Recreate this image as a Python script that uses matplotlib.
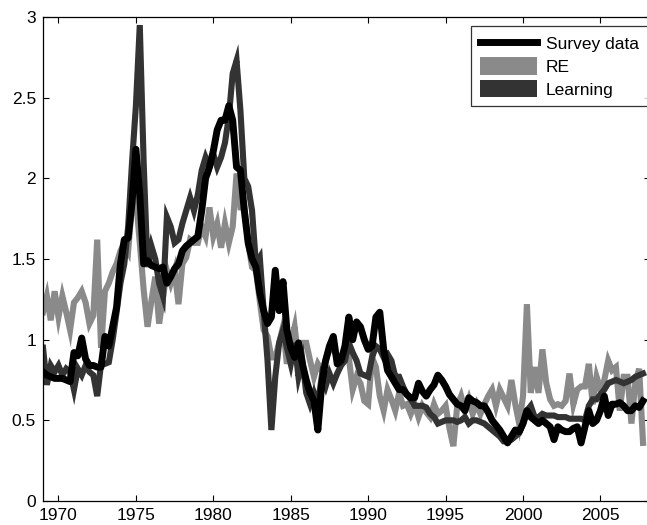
import numpy as np
import matplotlib
matplotlib.use("Agg")
import matplotlib.pyplot as plt
from matplotlib.lines import Line2D
from matplotlib.patches import Patch

# quarterly data, 1969Q1 .. 2007Q4
start_year = 1969
n_quarters = 156

survey = [
    0.80, 0.78, 0.77, 0.76,  # 1969
    0.76, 0.76, 0.75, 0.74,  # 1970
    0.92, 0.90, 1.01, 0.88,  # 1971
    0.84, 0.84, 0.83, 0.83,  # 1972
    1.02, 0.96, 1.08, 1.20,  # 1973
    1.47, 1.62, 1.63, 1.85,  # 1974
    2.18, 1.90, 1.47, 1.49,  # 1975
    1.46, 1.45, 1.44, 1.45,  # 1976
    1.35, 1.39, 1.44, 1.47,  # 1977
    1.55, 1.58, 1.60, 1.62,  # 1978
    1.64, 1.80, 2.00, 2.07,  # 1979
    2.17, 2.30, 2.36, 2.36,  # 1980
    2.45, 2.36, 2.07, 2.05,  # 1981
    1.80, 1.60, 1.50, 1.45,  # 1982
    1.29, 1.18, 1.10, 1.14,  # 1983
    1.43, 1.18, 1.36, 1.06,  # 1984
    0.95, 0.89, 0.98, 0.85,  # 1985
    0.75, 0.67, 0.62, 0.44,  # 1986
    0.72, 0.87, 0.96, 1.02,  # 1987
    0.85, 0.87, 0.96, 1.14,  # 1988
    1.00, 1.11, 1.08, 1.00,  # 1989
    0.94, 0.96, 1.14, 1.17,  # 1990
    0.94, 0.81, 0.77, 0.73,  # 1991
    0.69, 0.69, 0.66, 0.64,  # 1992
    0.64, 0.73, 0.68, 0.65,  # 1993
    0.69, 0.72, 0.78, 0.75,  # 1994
    0.71, 0.66, 0.63, 0.60,  # 1995
    0.59, 0.56, 0.64, 0.62,  # 1996
    0.61, 0.59, 0.59, 0.55,  # 1997
    0.50, 0.47, 0.44, 0.40,  # 1998
    0.36, 0.40, 0.44, 0.43,  # 1999
    0.48, 0.56, 0.52, 0.50,  # 2000
    0.48, 0.50, 0.48, 0.46,  # 2001
    0.38, 0.46, 0.44, 0.43,  # 2002
    0.43, 0.45, 0.46, 0.36,  # 2003
    0.46, 0.56, 0.48, 0.50,  # 2004
    0.56, 0.65, 0.53, 0.60,  # 2005
    0.60, 0.61, 0.59, 0.56,  # 2006
    0.56, 0.59, 0.58, 0.62,  # 2007
]

rational = [
    1.17, 1.27, 1.12, 1.30,  # 1969
    1.14, 1.27, 1.17, 1.06,  # 1970
    1.23, 1.26, 1.30, 1.23,  # 1971
    1.10, 1.15, 1.62, 0.95,  # 1972
    1.30, 1.35, 1.42, 1.47,  # 1973
    1.55, 1.60, 1.55, 1.84,  # 1974
    1.88, 1.60, 1.31, 1.08,  # 1975
    1.24, 1.39, 1.10, 1.26,  # 1976
    1.43, 1.35, 1.43, 1.22,  # 1977
    1.47, 1.51, 1.62, 1.60,  # 1978
    1.60, 1.70, 1.64, 1.82,  # 1979
    1.64, 1.72, 1.57, 1.72,  # 1980
    1.60, 1.70, 2.03, 1.82,  # 1981
    1.82, 1.60, 1.45, 1.43,  # 1982
    1.24, 1.06, 1.02, 0.89,  # 1983
    0.89, 0.98, 1.08, 0.85,  # 1984
    0.98, 1.08, 0.87, 0.98,  # 1985
    0.98, 0.87, 0.77, 0.85,  # 1986
    0.81, 0.87, 0.94, 0.94,  # 1987
    0.89, 0.87, 0.96, 0.89,  # 1988
    0.69, 0.77, 0.73, 0.62,  # 1989
    0.60, 0.89, 0.83, 0.65,  # 1990
    0.56, 0.69, 0.63, 0.56,  # 1991
    0.67, 0.59, 0.60, 0.54,  # 1992
    0.60, 0.52, 0.59, 0.55,  # 1993
    0.52, 0.60, 0.54, 0.56,  # 1994
    0.59, 0.45, 0.34, 0.59,  # 1995
    0.65, 0.56, 0.63, 0.54,  # 1996
    0.60, 0.54, 0.60, 0.65,  # 1997
    0.69, 0.59, 0.69, 0.64,  # 1998
    0.59, 0.75, 0.60, 0.48,  # 1999
    0.65, 1.22, 0.67, 0.83,  # 2000
    0.67, 0.94, 0.73, 0.63,  # 2001
    0.59, 0.60, 0.59, 0.62,  # 2002
    0.79, 0.60, 0.69, 0.71,  # 2003
    0.71, 0.85, 0.60, 0.77,  # 2004
    0.69, 0.75, 0.87, 0.81,  # 2005
    0.83, 0.56, 0.77, 0.77,  # 2006
    0.48, 0.73, 0.82, 0.36,  # 2007
]

learning = [
    0.95, 0.72, 0.84, 0.80,  # 1969
    0.84, 0.78, 0.82, 0.80,  # 1970
    0.69, 0.82, 0.78, 0.84,  # 1971
    0.80, 0.78, 0.65, 0.85,  # 1972
    0.85, 0.86, 1.00, 1.17,  # 1973
    1.35, 1.47, 1.70, 2.10,  # 1974
    2.45, 2.95, 2.10, 1.45,  # 1975
    1.58, 1.50, 1.35, 1.27,  # 1976
    1.76, 1.70, 1.60, 1.62,  # 1977
    1.72, 1.80, 1.88, 1.80,  # 1978
    1.90, 2.05, 2.13, 2.07,  # 1979
    2.15, 2.07, 2.13, 2.22,  # 1980
    2.38, 2.65, 2.73, 2.42,  # 1981
    2.00, 1.95, 1.80, 1.47,  # 1982
    1.51, 1.18, 0.87, 0.44,  # 1983
    0.77, 0.98, 1.06, 0.95,  # 1984
    0.85, 0.98, 0.77, 0.87,  # 1985
    0.67, 0.60, 0.67, 0.60,  # 1986
    0.77, 0.71, 0.79, 0.73,  # 1987
    0.79, 0.84, 0.87, 0.98,  # 1988
    0.92, 0.87, 0.79, 0.78,  # 1989
    0.77, 0.89, 0.96, 0.94,  # 1990
    0.89, 0.91, 0.87, 0.77,  # 1991
    0.77, 0.71, 0.66, 0.63,  # 1992
    0.59, 0.59, 0.59, 0.58,  # 1993
    0.54, 0.52, 0.48, 0.49,  # 1994
    0.50, 0.50, 0.50, 0.49,  # 1995
    0.50, 0.52, 0.48, 0.50,  # 1996
    0.50, 0.49, 0.48, 0.46,  # 1997
    0.44, 0.42, 0.40, 0.37,  # 1998
    0.37, 0.38, 0.40, 0.42,  # 1999
    0.48, 0.56, 0.59, 0.52,  # 2000
    0.52, 0.54, 0.53, 0.53,  # 2001
    0.53, 0.52, 0.52, 0.52,  # 2002
    0.51, 0.51, 0.51, 0.51,  # 2003
    0.50, 0.59, 0.63, 0.63,  # 2004
    0.66, 0.69, 0.73, 0.74,  # 2005
    0.75, 0.74, 0.73, 0.74,  # 2006
    0.75, 0.77, 0.78, 0.79,  # 2007
]

xticks = [1970, 1975, 1980, 1985, 1990, 1995, 2000, 2005]
yticks = [0, 0.5, 1, 1.5, 2, 2.5, 3]
ytick_labels = ["0", "0.5", "1", "1.5", "2", "2.5", "3"]

dates = start_year + 0.25 * np.arange(n_quarters)

plt.rcParams['font.family'] = ['Liberation Sans', 'DejaVu Sans']

light = "#8a8a8a"
dark = "#333333"

fig = plt.figure(figsize=(6.47, 5.25), dpi=100)
# axes runs a little past the right edge, so the right spine is cut off
ax = fig.add_axes([43 / 647, 24 / 525, (650 - 43) / 647, 484 / 525])

ax.plot(dates, rational, color=light, lw=4.4, solid_joinstyle="miter")
ax.plot(dates, learning, color=dark, lw=4.4, solid_joinstyle="miter")
ax.plot(dates, survey, color="black", lw=5.0)

ax.set_xlim(1969, 2008.2)
ax.set_ylim(0, 3)
ax.set_xticks(xticks)
ax.set_yticks(yticks)
ax.set_yticklabels(ytick_labels)
ax.tick_params(direction="in", length=4.5, width=0.8, top=True, right=True,
               labelsize=12.5, pad=5)
for s in ax.spines.values():
    s.set_linewidth(0.9)

handles = [
    Line2D([0], [0], color="black", lw=5),
    Patch(facecolor=light, edgecolor="none"),
    Patch(facecolor=dark, edgecolor="none"),
]
leg = ax.legend(handles, ["Survey data", "RE", "Learning"],
                loc="upper left",
                bbox_to_anchor=(471 / 647, 1 - 26 / 525, 200 / 647, 0.0),
                bbox_transform=fig.transFigure, mode="expand", fontsize=12.5,
                frameon=True, fancybox=False, edgecolor="black",
                handlelength=3.3, handleheight=1.15, labelspacing=0.3,
                handletextpad=0.5, borderpad=0.5, borderaxespad=0)
leg.get_frame().set_linewidth(0.9)

fig.savefig("out.png", dpi=100)
